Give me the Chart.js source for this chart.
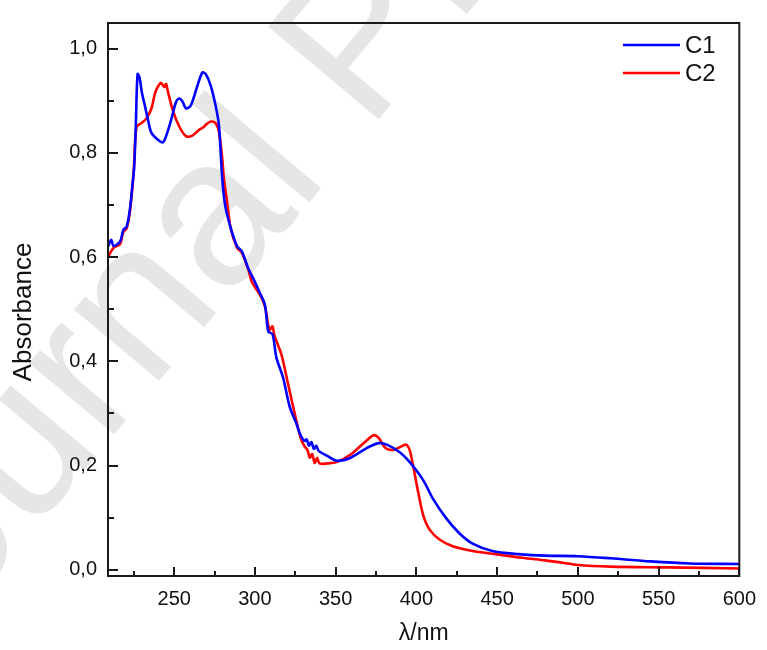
<!DOCTYPE html>
<html>
<head>
<meta charset="utf-8">
<script src="https://cdn.jsdelivr.net/npm/chart.js@4.4.1/dist/chart.umd.min.js"></script>
<style>
  html, body { margin: 0; padding: 0; background: #fff; }
  canvas { display: block; }
</style>
</head>
<body>
<canvas id="chart" width="767" height="650"></canvas>
<script>
// UV-Vis absorption spectra of C1 and C2
const c1Wl = [209, 211, 212.5, 216.5, 218.5, 220.5, 222.5, 224, 225.2, 226.2, 227.3, 228.5, 230, 231.8, 234, 235.9, 239.9, 243, 245, 248.1,
  251.2, 253.2, 255.2, 257.3, 260.3, 263.4, 267.4, 269.5, 272.6, 275.6, 277.7, 279.7, 281.5, 284.8, 288.9, 291.9, 296, 299.1, 303.2, 306.2,
  308.3, 310.9, 313.3, 317.4, 321.5, 325.6, 328, 330.7, 332, 333.5, 335, 336.5, 338, 339.5, 345, 351, 359.2, 369.5, 376.6, 381.7,
  389.9, 396, 404.2, 410.3, 418.4, 426.6, 434.8, 447, 463.3, 479.6, 500, 520.4, 544.9, 569.4, 600];
const c1Abs = [0.62, 0.633, 0.621, 0.63, 0.652, 0.658, 0.69, 0.734, 0.772, 0.85, 0.951, 0.945, 0.915, 0.891, 0.86, 0.838, 0.825, 0.82, 0.832, 0.863,
  0.898, 0.904, 0.898, 0.885, 0.891, 0.919, 0.954, 0.951, 0.929, 0.891, 0.853, 0.753, 0.7, 0.658, 0.621, 0.611, 0.577, 0.558, 0.53, 0.508,
  0.457, 0.452, 0.407, 0.369, 0.313, 0.281, 0.26, 0.247, 0.25, 0.238, 0.245, 0.232, 0.238, 0.228, 0.218, 0.209, 0.215, 0.234, 0.243, 0.24,
  0.225, 0.206, 0.172, 0.136, 0.099, 0.07, 0.05, 0.036, 0.03, 0.027, 0.026, 0.022, 0.016, 0.012, 0.011];

const c2Wl = [209, 212.5, 216.5, 218.5, 220.5, 222.5, 224, 225, 226.7, 229.8, 232.8, 235.9, 238.3, 241.6, 243, 244, 245, 246, 249.1, 253.2,
  257.3, 261.3, 265.4, 268.5, 270, 272.6, 275.6, 277.7, 279.7, 280.7, 283, 285, 288.9, 291.9, 296, 298.1, 303.2, 306.2, 309, 310.9,
  312, 316.4, 320.5, 324.6, 328.6, 330.7, 332.5, 334, 335.5, 337, 338.5, 340, 345, 351, 359.2, 367.4, 373.5, 376.6, 380.7, 385.8,
  392.9, 394.5, 396, 398, 401.1, 404.2, 408.2, 414.3, 422.5, 434.8, 449, 465.4, 479.6, 489.8, 500, 520.4, 555, 600];
const c2Abs = [0.6, 0.618, 0.625, 0.648, 0.655, 0.685, 0.73, 0.77, 0.85, 0.857, 0.866, 0.885, 0.916, 0.934, 0.93, 0.926, 0.932, 0.919, 0.882, 0.85,
  0.832, 0.833, 0.844, 0.85, 0.855, 0.86, 0.857, 0.841, 0.791, 0.753, 0.7, 0.655, 0.618, 0.608, 0.575, 0.552, 0.527, 0.505, 0.46, 0.467,
  0.45, 0.413, 0.357, 0.3, 0.25, 0.237, 0.23, 0.215, 0.222, 0.205, 0.215, 0.204, 0.204, 0.207, 0.221, 0.243, 0.258, 0.253, 0.234, 0.23,
  0.24, 0.238, 0.228, 0.199, 0.149, 0.105, 0.077, 0.058, 0.045, 0.036, 0.03, 0.023, 0.018, 0.014, 0.009, 0.006, 0.0045, 0.0025];

const seriesNames = ["C1", "C2"];
const seriesColors = ["#0000ff", "#ff0000"];
const xMajor = [250, 300, 350, 400, 450, 500, 550, 600];
const xMinor = [225, 275, 325, 375, 425, 475, 525, 575];
const yMajor = [0, 0.2, 0.4, 0.6, 0.8, 1.0];
const yMinor = [0.1, 0.3, 0.5, 0.7, 0.9];

const FONT = "'Liberation Sans', Arial, sans-serif";

const toPoints = (xs, ys) => xs.map((x, i) => ({ x, y: ys[i] }));

// faint diagonal stamp behind the plot
const stamp = {
  id: "stamp",
  beforeDraw(chart) {
    const c = chart.ctx;
    c.save();
    c.fillStyle = "#fff";
    c.fillRect(0, 0, chart.width, chart.height);
    c.translate(25, 455);
    c.rotate(-50 * Math.PI / 180);
    c.font = "210px " + FONT;
    c.fillStyle = "#e6e6e6";
    c.fillText("Journal Pre-proof", -280, 55);
    c.restore();
  },
};

// box frame, inward ticks, y title and the legend
const frame = {
  id: "frame",
  afterDraw(chart) {
    const c = chart.ctx;
    const { left, right, top, bottom } = chart.chartArea;
    const xs = chart.scales.x, ys = chart.scales.y;
    c.save();
    c.strokeStyle = "#1a1a1a";
    c.lineWidth = 2;
    c.strokeRect(left, top, right - left, bottom - top);
    c.beginPath();
    for (const v of xMajor) { const p = Math.round(xs.getPixelForValue(v)); c.moveTo(p, bottom); c.lineTo(p, bottom - 9); }
    for (const v of xMinor) { const p = Math.round(xs.getPixelForValue(v)); c.moveTo(p, bottom); c.lineTo(p, bottom - 5); }
    for (const v of yMajor) { const p = Math.round(ys.getPixelForValue(v)); c.moveTo(left, p); c.lineTo(left + 10, p); }
    for (const v of yMinor) { const p = Math.round(ys.getPixelForValue(v)); c.moveTo(left, p); c.lineTo(left + 6, p); }
    c.stroke();

    c.fillStyle = "#111";
    c.textAlign = "center";
    c.textBaseline = "middle";
    c.save();
    c.translate(24, 312);
    c.rotate(-Math.PI / 2);
    c.font = "26px " + FONT;
    c.fillText("Absorbance", 0, 0);
    c.restore();

    c.font = "24px " + FONT;
    c.textAlign = "left";
    seriesNames.forEach((name, i) => {
      const y = 45 + i * 28;
      c.strokeStyle = seriesColors[i];
      c.lineWidth = 2.5;
      c.beginPath();
      c.moveTo(623, y);
      c.lineTo(680, y);
      c.stroke();
      c.fillText(name, 685, y + 1);
    });
    c.restore();
  },
};

new Chart(document.getElementById("chart"), {
  type: "line",
  data: {
    datasets: [
      { label: seriesNames[0], data: toPoints(c1Wl, c1Abs), borderColor: seriesColors[0], borderWidth: 2.6, pointRadius: 0, tension: 0.3 },
      { label: seriesNames[1], data: toPoints(c2Wl, c2Abs), borderColor: seriesColors[1], borderWidth: 2.6, pointRadius: 0, tension: 0.3 },
    ],
  },
  options: {
    responsive: false,
    animation: false,
    layout: { padding: { top: 14, right: 19, left: 0, bottom: 0 } },
    plugins: { legend: { display: false }, tooltip: { enabled: false } },
    scales: {
      x: {
        type: "linear",
        min: 209,
        max: 600,
        afterFit: (s) => { s.height = 74; },
        grid: { display: false, drawTicks: false },
        border: { display: false },
        ticks: { stepSize: 50, includeBounds: false, padding: 11, color: "#111", font: { size: 20, family: FONT }, maxRotation: 0 },
        title: { display: true, text: "λ/nm", color: "#111", font: { size: 23, family: FONT }, padding: { bottom: 3 } },
      },
      y: {
        min: -0.012,
        max: 1.049,
        afterFit: (s) => { s.width = 108; },
        grid: { display: false, drawTicks: false },
        border: { display: false },
        ticks: {
          stepSize: 0.2,
          includeBounds: false,
          padding: 11,
          color: "#111",
          font: { size: 20, family: FONT },
          callback: (v) => v.toFixed(1).replace(".", ","),
        },
      },
    },
  },
  plugins: [stamp, frame],
});
</script>
</body>
</html>
